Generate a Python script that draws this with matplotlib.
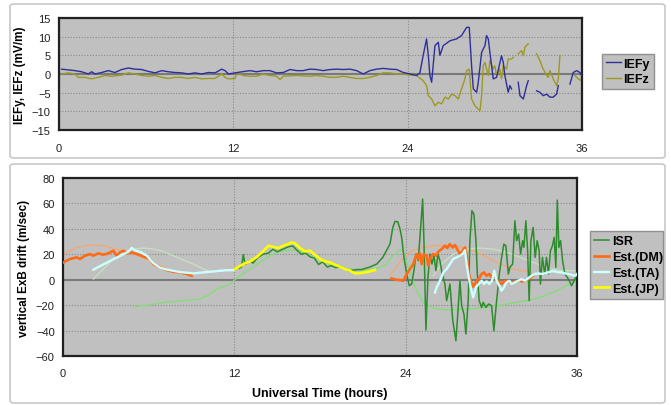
import numpy as np
import matplotlib
matplotlib.use("Agg")
import matplotlib.pyplot as plt
from matplotlib.patches import FancyBboxPatch

nan = np.nan
plt.rcParams['font.family'] = ['Liberation Sans', 'DejaVu Sans']

# ---------------- top panel data (mV/m) ----------------
iefy_t = [0.18, 1.10, 1.56, 2.02, 2.25, 2.48, 2.94, 3.39, 3.85, 4.31, 4.77, 5.23, 5.69, 6.15,
          6.61, 7.07, 7.53, 7.98, 8.44, 8.90, 9.36, 9.82, 10.28, 10.74, 11.2, 11.43, 11.66, 12.12,
          12.6, 13.14, 13.6, 14.06, 14.52, 14.98, 15.44, 15.90, 16.36, 16.81, 17.27, 17.73, 18.19,
          18.65, 19.11, 19.57, 20.03, 20.49, 20.94, 21.40, 21.86, 22.32, 22.78, 23.24, 23.70, 24.16,
          24.61, 24.84, 25.07, 25.30, 25.42, 25.53, 25.65, 25.88, 26.11, 26.22, 26.45, 26.91, 27.37,
          27.71, 28.06, 28.24, 28.40, 28.52, 28.75, 28.86, 29.09, 29.32, 29.43, 29.55, 29.66, 29.89,
          30.12, 30.46, 30.58, 30.69, 30.92, 31.04, 31.15, 31.38, 31.61, 31.73, 31.96, 32.19, 32.30,
          32.60, 32.88, 33.10, 33.33, 33.57, 33.79, 34.02, 34.25, 34.37, 34.80, 35.17, 35.40, 35.63,
          35.86, 35.97]
iefy_v = [1.3, 0.9, 0.6, 0.0, 0.6, 0.0, 0.4, 0.9, 0.4, 1.2, 1.6, 1.3, 1.2, 0.7,
          0.3, 0.9, 0.6, 0.4, 0.3, 0.0, 0.3, 0.0, 0.4, 0.3, 1.3, 0.9, 0.0, 0.3,
          0.6, 0.9, 0.6, 0.9, 0.9, 0.3, 0.4, 1.2, 0.9, 0.9, 1.3, 1.2, 0.9,
          1.2, 1.3, 1.2, 1.3, 0.9, 0.0, 0.9, 1.3, 1.5, 1.3, 1.2, 0.4, 0.0,
          -0.4, 0.3, 5.0, 9.4, 5.0, -0.4, -2.2, 7.6, 8.5, 5.0, 7.6, 8.9, 9.4,
          10.3, 12.5, 12.5, 2.2, -4.0, -4.9, -2.2, 5.8, 7.6, 10.3, 9.4, 5.8, -1.3,
          -0.9, 4.9, 3.1, -0.4, -4.9, -3.1, -4.0, nan, -2.2, -5.8, -6.7, -3.1, -1.8,
          nan, -4.5, -4.9, -5.8, -5.4, -6.2, -6.2, -5.4, -3.1, nan, -2.7, 0.4, 0.9,
          0.4, -0.4]

iefz_t = [0.18, 0.64, 1.10, 1.33, 1.79, 2.25, 2.71, 3.17, 3.62, 4.31, 4.77, 5.23, 5.69, 6.15,
          6.61, 7.07, 7.53, 7.98, 8.44, 8.90, 9.36, 9.82, 10.28, 10.74, 11.2, 11.43, 11.66, 12.12,
          12.23, 12.68, 13.14, 13.6, 14.06, 14.52, 14.98, 15.21, 15.44, 16.36, 17.27, 17.73, 18.19,
          18.65, 19.11, 19.57, 20.03, 20.49, 20.94, 21.40, 21.86, 22.32, 22.78, 23.24, 23.70, 24.16,
          24.61, 25.07, 25.30, 25.42, 25.65, 25.88, 26.11, 26.34, 26.57, 26.80, 27.03, 27.26, 27.48,
          27.71, 27.94, 28.06, 28.24, 28.40, 28.63, 28.86, 28.98, 29.09, 29.20, 29.32, 29.55, 29.66,
          29.89, 30.00, 30.12, 30.35, 30.46, 30.58, 30.81, 30.92, 31.15, 31.27, 31.45, 31.61, 31.84,
          31.96, 32.07, 32.30, 32.60, 32.88, 33.10, 33.33, 33.57, 33.68, 33.79, 34.02, 34.25, 34.37,
          34.48, 35.00, 35.51, 35.74, 35.97]
iefz_v = [0.0, 0.3, 0.0, -0.9, -0.9, -1.3, -0.9, -0.4, -0.6, -0.3, 0.3, 0.0, -0.4, -0.6,
          -0.4, -0.9, -1.2, -0.9, -0.9, -1.2, -0.9, -1.3, -1.2, -1.2, 0.0, -0.9, -1.3, -1.2,
          0.3, -0.4, -0.6, -0.6, 0.0, -0.4, -0.6, -1.5, -0.6, -0.4, -0.6, -0.4, -0.6,
          -0.9, -0.9, -0.6, -0.9, -1.2, -1.2, -0.9, -0.4, 0.3, 0.3, 0.0, 0.0, -0.3,
          -0.4, -1.8, -3.1, -5.8, -6.7, -8.5, -7.6, -8.0, -6.2, -6.7, -5.4, -5.8, -6.7,
          -4.0, -1.3, 0.9, 1.3, -6.7, -8.5, -9.4, -9.8, -5.8, 2.2, 3.1, -0.4, 3.6,
          1.3, 2.2, -0.4, 1.3, -1.3, 2.2, 1.3, 4.0, 4.0, 4.5, nan, 5.4, 6.3,
          4.9, 7.2, 8.1, nan, 5.4, 3.6, 1.3, -0.4, -0.9, 0.9, -1.3, -3.1, -1.3,
          4.9, nan, -0.4, -1.3, -1.8]

# ---------------- bottom panel data (m/s) ----------------
isr_t = [12.35, 12.5, 12.63, 12.75, 12.9, 13.1, 13.3, 13.6, 14.0, 14.4, 14.7, 15.0, 15.4, 15.8,
         16.1, 16.4, 16.7, 17.0, 17.3, 17.6, 17.9, 18.2, 18.5, 18.8, 19.1, 19.4, 19.7, 20.0,
         20.3, 20.6, 20.9, 21.2, 21.5, 21.97, 22.4, 22.9, 23.1, 23.25, 23.45, 23.6, 23.72, 23.88,
         24.07, 24.25, 24.42, 24.58, 24.72, 24.88, 25.05, 25.19, 25.28, 25.42, 25.56, 25.70, 25.84,
         25.98, 26.12, 26.26, 26.40, 26.55, 26.75, 26.87, 27.1, 27.3, 27.52, 27.68, 27.8, 27.92,
         28.08, 28.22, 28.38, 28.5, 28.64, 28.78, 28.92, 29.02, 29.15, 29.32, 29.43, 29.62, 29.81,
         30.02, 30.18, 30.37, 30.56, 30.72, 30.88, 31.02, 31.19, 31.3, 31.49, 31.65, 31.77, 31.91,
         32.05, 32.19, 32.28, 32.42, 32.54, 32.65, 32.77, 32.93, 33.07, 33.21, 33.35, 33.44, 33.58,
         33.74, 33.86, 34.0, 34.14, 34.28, 34.4, 34.52, 34.62, 34.73, 34.85, 34.99, 35.15, 35.32,
         35.46, 35.62, 35.74, 35.9, 36.0]
isr_v = [9, 10, 19.7, 12, 13, 15, 13, 17, 20, 21, 24, 22, 24, 26,
         26.5, 23, 20, 21, 18, 17, 12, 14, 10, 11, 9.5, 10.5, 9, 7,
         7.5, 8, 8, 9, 10, 12.3, 17.6, 28, 41, 45.9, 45.5, 40, 33.3, 17.6,
         4.5, -4.7, -3.4, 7.1, 20.2, 14.9, 41.1, 63.4, 30.7, -39.6, 1.8, 20.2, 12.3,
         18.9, 7.1, 20.2, 14.9, 5, -3.4, -16.5, -3.4, -32.2, -48, -21.8, -0.8, -20.4,
         -27, -42.7, -16.5, 30.7, 54.3, 51.6, 30.7, 4.5, -16.5, -21.8, -17.8, -21.8, -19.1,
         -20.4, -40.1, -16.5, 4.5, 17.6, 28, 26.7, 4.5, 9.7, 12.3, 46.4, 30.7, 35.9,
         20.2, 30.7, 25.4, 46.4, 22.8, -16.5, 30.7, 41.1, 17.6, 30.7, 22.8, -3.4, 17.6,
         4.5, 17.6, 4.5, 22.8, 26.7, 33.3, 9.7, 62.6, 25.4, 30.7, 14.9, 4.5, 1.8,
         -0.8, -4.7, -2.1, 1.8, 4.5]

dm_t = [0.02, 0.49, 0.96, 1.19, 1.54, 1.89, 2.12, 2.47, 2.82, 3.17, 3.52, 3.76, 3.99, 4.23,
        4.46, 4.81, 5.16, 5.63, 6.09, 6.33, 6.79, 7.26, 7.73, 8.19, 8.66, 9.01, 16.0,
        23.02, 23.3, 23.6, 23.84, 24.07, 24.3, 24.53, 24.77, 24.88, 25.0, 25.12, 25.28, 25.47,
        25.58, 25.75, 25.93, 26.12, 26.31, 26.52, 26.75, 26.91, 27.1, 27.29, 27.45, 27.61, 27.8,
        27.99, 28.15, 28.27, 28.38, 28.55, 28.73, 28.92, 29.11, 29.32, 29.48, 29.67, 29.86, 30.02,
        30.21, 30.37, 30.56, 30.72, 30.88, 31.07, 31.3, 31.53, 31.88, 32.24, 32.59, 32.93]
dm_v = [13.6, 16.3, 17.6, 16.3, 18.9, 20.2, 18.9, 20.7, 19.7, 20.7, 22.8, 18.9, 21.5, 22.8,
        20.7, 21.5, 20.2, 18.1, 16.3, 12.3, 9.7, 7.6, 6.3, 5.8, 4.5, 3.1, nan,
        1, 0, -0.3, -0.8, 4.5, 8.4, 12.3, 20.2, 16.3, 20.7, 12.3, 20.2, 18.9,
        11, 17.6, 20.2, 18.9, 22.3, 24.1, 26.7, 24.9, 28, 25.4, 27.3, 24.1, 20.2,
        22.8, 25.4, 20.2, 7.1, -0.8, -5.5, -2.1, 0.5, 4.5, 5.8, 3.1, 4.5, 1.8,
        4.5, 0.5, -2.1, -3.4, -1.3, -0.8, -2.1, -2.1, -0.8, -1.3, 0.5, 3.1]

ta_t = [2.12, 2.82, 3.52, 4.23, 4.58, 4.81, 5.04, 5.39, 5.86, 6.33, 6.79, 7.26, 7.73, 8.19,
        8.66, 9.13, 9.59, 10.06, 10.53, 11.0, 11.46, 11.93, 18.0,
        26.05, 26.17, 26.4, 26.64, 26.87, 27.1, 27.33, 27.57, 27.8, 27.99, 28.15, 28.27, 28.38,
        28.55, 28.73, 28.92, 29.11, 29.32, 29.48, 29.67, 29.86, 30.05, 30.21, 30.37, 30.56, 30.72,
        30.88, 31.07, 31.26, 31.42, 31.65, 31.88, 32.12, 32.35, 32.59, 32.82, 33.05, 33.28, 33.51,
        33.75, 33.98, 34.21, 34.45, 34.68, 34.92, 35.15, 35.39, 35.62, 35.86, 36.0]
ta_v = [7.9, 12, 16, 20, 22, 25, 23, 22, 19, 13, 9.5, 8, 7, 6,
        5.5, 5, 5.5, 6, 6.5, 7, 7.5, 7.5, nan,
        -10, -6.0, -0.8, 5.8, 8.4, 12.3, 16.3, 17.6, 18.9, 20.2, 23.3, 12.3, 4.5,
        -6.0, -13.9, -6.0, -3.4, -0.8, -3.4, -1.3, -3.4, -0.8, 7.1, -0.8, -4.7, -8.6,
        -6.0, -2.1, -0.8, -3.4, -2.1, -0.8, 0.5, -0.8, 1.3, 3.1, 4.5, 5.0, 4.5,
        5.0, 5.8, 6.6, 6.6, 5.8, 5.8, 5.0, 4.5, 3.9, 3.1, 4.5]

jp_t = [12.04, 12.63, 13.1, 13.6, 14.0, 14.4, 14.7, 15.08, 15.43, 15.78, 16.0, 16.25, 16.6,
        16.95, 17.3, 17.65, 18.0, 18.35, 18.7, 19.05, 19.4, 19.75, 20.1, 20.45, 20.8, 21.15,
        21.5, 21.85]
jp_v = [8.4, 12.3, 14.4, 18.1, 22.3, 26.7, 25.9, 24.9, 26.7, 28.0, 29.4, 28.6, 24.9,
        22.3, 22.8, 19.7, 16.3, 14.4, 13.6, 11.8, 10.2, 8.4, 7.1, 5.0, 5.2, 5.8,
        6.6, 7.6]

# thin model curves
mdm_t = [0.0, 0.96, 1.89, 2.82, 3.76, 4.69, 5.63, 6.56, 7.49, 8.19, 15.0,
         22.9, 23.3, 23.6, 24.0, 24.5, 25.0, 25.94, 26.87, 27.8, 28.73, 29.67, 30.6, 31.5,
         32.47, 32.8]
mdm_v = [20, 25.4, 27.3, 26.7, 24.1, 21.5, 17.6, 12.3, 7.6, 5.8, nan,
         4, 9, 14, 19, 23, 24.9, 26.7, 27.3, 25.9, 22.8, 17.6, 12.3, 8.4,
         6.6, 5.8]

mta_t = [2.12, 2.82, 3.52, 4.23, 4.93, 5.63, 6.33, 7.03, 7.73, 8.43, 9.13, 9.83, 10.3, 18.0,
         25.94, 26.17, 26.64, 27.33, 28.27, 29.2, 30.14, 31.07, 32.0, 32.93, 33.86, 34.8, 35.97]
mta_v = [0.5, 8.4, 16.3, 21.5, 24.1, 24.9, 24.1, 22.3, 18.9, 15.5, 12.3, 8.4, 6.6, nan,
         3, 7.1, 13.6, 20.2, 24.1, 24.9, 24.1, 21.5, 17.6, 13.6, 9.7, 7.1, 7.1]

misr_t = [5.04, 7.26, 9.59, 10.2, 10.76, 11.69, 12.04, 12.39, 13.1, 13.8, 14.5, 15.2, 15.9,
          16.6, 17.3, 18.0, 18.7, 19.4, 20.1, 21.0, 21.97, 22.67, 23.1, 23.6, 23.8, 24.07, 24.42,
          24.77, 25.23, 25.94, 26.87, 28.27, 29.67, 31.07, 32.47, 33.4, 34.33, 35.27, 35.97]
misr_v = [-21.2, -17.8, -15.2, -12, -7.3, -3.4, 0, 3.1, 8.4, 13.6, 18.9, 22.3, 23.3,
          22.8, 18.9, 15.5, 12.3, 9.7, 8.4, 7.1, 8.4, 12.3, 18.9, 23.3, 22.8, 13.6, 1.8,
          -8.6, -17.8, -22.3, -23.8, -23.1, -21.8, -19.1, -16.5, -13.9, -10.0, -4.7, -0.8]

x_ticks = [0, 12, 24, 36]
top_yticks = [-15, -10, -5, 0, 5, 10, 15]
bot_yticks = [-60, -40, -20, 0, 20, 40, 60, 80]

# ---------------- figure ----------------
W, H = 671, 406
fig = plt.figure(figsize=(W / 100, H / 100), dpi=100)
fig.patch.set_facecolor('white')

def fbox(x0, y0, x1, y1):
    p = FancyBboxPatch((x0 / W, 1 - y1 / H), (x1 - x0) / W, (y1 - y0) / H,
                       boxstyle="round,pad=0,rounding_size=0.006",
                       transform=fig.transFigure, facecolor='white',
                       edgecolor='#c8c8c8', linewidth=1.2, zorder=-5)
    fig.patches.append(p)

fbox(10, 5, 665, 159)
fbox(10, 165, 665, 404)

def make_ax(x0, y0, x1, y1):
    ax = fig.add_axes([x0 / W, 1 - y1 / H, (x1 - x0) / W, (y1 - y0) / H])
    ax.set_zorder(1)
    ax.set_facecolor('#c0c0c0')
    for s in ax.spines.values():
        s.set_color('#202020')
        s.set_linewidth(1.6)
    ax.set_xlim(0, 36)
    ax.set_xticks(x_ticks)
    ax.tick_params(length=0, labelsize=8, colors='#202020')
    ax.tick_params(axis='x', pad=9)
    ax.tick_params(axis='y', pad=6)
    ax.grid(True, color='#8a8a8a', linestyle=(0, (1, 1.5)), linewidth=0.8)
    ax.set_axisbelow(True)
    ax.axhline(0, color='#7a7a7a', linewidth=1.5, zorder=1.5)
    return ax

ax1 = make_ax(59, 19, 582, 131)
ax1.set_ylim(-15, 15)
ax1.set_yticks(top_yticks)
ax1.plot(iefy_t, iefy_v, color='#2f2f9c', linewidth=1.0, label='IEFy', zorder=3)
ax1.plot(iefz_t, iefz_v, color='#9c9a22', linewidth=1.0, label='IEFz', zorder=2.5)
ax1.set_ylabel('IEFy, IEFz (mV/m)', fontsize=8.5, fontweight='bold', labelpad=4)
leg1 = ax1.legend(loc='upper left', bbox_to_anchor=(602 / W, 1 - 92 / H, 52 / W, 37 / H),
                  bbox_transform=fig.transFigure, mode='expand',
                  prop={'weight': 'bold', 'size': 9}, handlelength=1.2, handletextpad=0.2,
                  borderpad=0.3, labelspacing=0.25, fancybox=False, framealpha=1,
                  borderaxespad=0)
leg1.get_frame().set_facecolor('#c0c0c0')
leg1.get_frame().set_edgecolor('#909090')

ax2 = make_ax(63, 179, 577, 357)
ax2.set_ylim(-60, 80)
ax2.set_yticks(bot_yticks)
ax2.plot(mdm_t, mdm_v, color='#f2a878', linewidth=1.0, zorder=2)
ax2.plot(mta_t, mta_v, color='#c6dfc0', linewidth=1.0, zorder=2)
ax2.plot(misr_t, misr_v, color='#86dd78', linewidth=1.0, zorder=2)
ax2.plot(isr_t, isr_v, color='#2e8c2e', linewidth=1.1, label='ISR', zorder=3)
ax2.plot(dm_t, dm_v, color='#ff6a14', linewidth=1.9, label='Est.(DM)', zorder=4)
ax2.plot(ta_t, ta_v, color='#ccffff', linewidth=1.7, label='Est.(TA)', zorder=5)
ax2.plot(jp_t, jp_v, color='#ffff00', linewidth=1.9, label='Est.(JP)', zorder=6)
ax2.set_ylabel('vertical ExB drift (m/sec)', fontsize=8.4, fontweight='bold', labelpad=4)
ax2.set_xlabel('Universal Time (hours)', fontsize=9, fontweight='bold', labelpad=6)
leg2 = ax2.legend(loc='upper left', bbox_to_anchor=(590 / W, 1 - 303 / H, 73 / W, 71 / H),
                  bbox_transform=fig.transFigure, mode='expand',
                  prop={'weight': 'bold', 'size': 9}, handlelength=1.2, handletextpad=0.2,
                  borderpad=0.35, labelspacing=0.3, fancybox=False, framealpha=1,
                  borderaxespad=0)
leg2.get_frame().set_facecolor('#c0c0c0')
leg2.get_frame().set_edgecolor('#909090')

fig.savefig('out.png', dpi=100, facecolor='white')
